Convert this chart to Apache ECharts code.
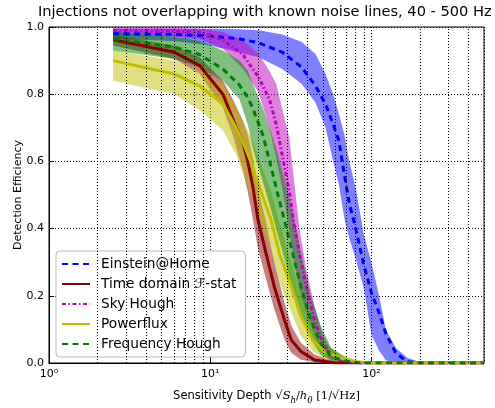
<!DOCTYPE html>
<html><head><meta charset="utf-8">
<script src="https://cdn.jsdelivr.net/npm/echarts@6/dist/echarts.min.js"></script>
<style>html,body{margin:0;padding:0;background:#fff}#c{width:495px;height:408px}</style>
</head><body><div id="c"></div>
<script>
// ---- data ----
const seriesNames = ['Einstein@Home', 'Time domain \u2131-stat', 'Sky Hough', 'Powerflux', 'Frequency Hough'];

const ehX  = [2.5, 6, 10, 15, 20, 28, 37, 45, 52, 58, 63, 68, 73, 80, 90, 100, 112, 123, 142, 168, 200, 500];
const ehY  = [0.98, 0.978, 0.973, 0.965, 0.953, 0.925, 0.88, 0.825, 0.77, 0.71, 0.66, 0.56, 0.475, 0.40, 0.29, 0.21, 0.148, 0.088, 0.029, 0.004, 0, 0];
const ehLo = [0.965, 0.958, 0.945, 0.925, 0.91, 0.875, 0.83, 0.775, 0.70, 0.60, 0.53, 0.43, 0.37, 0.31, 0.22, 0.085, 0.036, 0.008, 0, 0, 0, 0];
const ehHi = [0.995, 0.995, 0.995, 0.993, 0.99, 0.978, 0.955, 0.92, 0.86, 0.80, 0.74, 0.68, 0.60, 0.52, 0.38, 0.30, 0.197, 0.10, 0.045, 0.015, 0.003, 0];

const tdX  = [2.5, 6, 8.6, 12, 14, 16, 17.1, 18.4, 19.8, 22.2, 25, 28.9, 31.9, 36.6, 44.4, 60, 500];
const tdY  = [0.962, 0.925, 0.885, 0.80, 0.72, 0.654, 0.60, 0.525, 0.426, 0.326, 0.227, 0.128, 0.068, 0.034, 0.009, 0, 0];
const tdLo = [0.945, 0.905, 0.86, 0.76, 0.67, 0.57, 0.51, 0.43, 0.34, 0.25, 0.16, 0.07, 0.03, 0.01, 0.002, 0, 0];
const tdHi = [0.977, 0.945, 0.91, 0.84, 0.78, 0.72, 0.68, 0.61, 0.52, 0.42, 0.30, 0.18, 0.11, 0.06, 0.025, 0.003, 0];

const shX  = [2.5, 6, 8.6, 12, 16, 20, 23.3, 25.7, 28.5, 31, 33.2, 35.8, 39.4, 44.4, 49.9, 56, 65, 80, 500];
const shY  = [0.99, 0.988, 0.984, 0.962, 0.917, 0.85, 0.785, 0.71, 0.60, 0.51, 0.41, 0.326, 0.227, 0.128, 0.059, 0.024, 0.008, 0, 0];
const shLo = [0.975, 0.972, 0.965, 0.935, 0.875, 0.805, 0.70, 0.61, 0.50, 0.39, 0.30, 0.22, 0.15, 0.08, 0.03, 0.01, 0, 0, 0];
const shHi = [0.998, 0.997, 0.995, 0.985, 0.96, 0.92, 0.87, 0.83, 0.74, 0.67, 0.54, 0.40, 0.28, 0.17, 0.085, 0.04, 0.015, 0.003, 0];

const pfX  = [2.5, 6, 8.6, 12, 14.5, 16.7, 18, 20, 23.9, 26.9, 31.9, 36.6, 43.2, 51, 65, 80, 100, 500];
const pfY  = [0.90, 0.86, 0.825, 0.77, 0.70, 0.635, 0.595, 0.53, 0.425, 0.326, 0.227, 0.138, 0.068, 0.034, 0.014, 0.004, 0, 0];
const pfLo = [0.84, 0.80, 0.753, 0.693, 0.62, 0.54, 0.50, 0.44, 0.33, 0.24, 0.15, 0.08, 0.035, 0.015, 0.004, 0, 0, 0];
const pfHi = [0.93, 0.90, 0.87, 0.83, 0.76, 0.70, 0.67, 0.61, 0.51, 0.42, 0.30, 0.20, 0.11, 0.06, 0.025, 0.008, 0, 0];

const fhX  = [2.5, 6, 8.6, 12, 15.2, 17.1, 18.4, 21.2, 23.4, 26, 28.9, 32.5, 36.6, 42.1, 48.6, 56.4, 70, 85, 500];
const fhY  = [0.965, 0.94, 0.918, 0.875, 0.827, 0.79, 0.758, 0.679, 0.60, 0.51, 0.425, 0.326, 0.227, 0.128, 0.059, 0.019, 0.005, 0, 0];
const fhLo = [0.93, 0.905, 0.88, 0.84, 0.785, 0.71, 0.64, 0.54, 0.47, 0.39, 0.31, 0.22, 0.14, 0.07, 0.025, 0.006, 0, 0, 0];
const fhHi = [0.985, 0.97, 0.958, 0.93, 0.90, 0.87, 0.83, 0.76, 0.70, 0.63, 0.55, 0.45, 0.33, 0.20, 0.11, 0.045, 0.015, 0.003, 0];

const minorGridX = [2, 3, 4, 5, 6, 7, 8, 9, 20, 30, 40, 50, 60, 70, 80, 90, 200, 300, 400];
const xTickLabels = { 1: '10\u2070', 10: '10\u00b9', 100: '10\u00b2' };
const yTickValues = [0, 0.2, 0.4, 0.6, 0.8, 1.0];

// ---- styling ----
const FONT = 'DejaVu Sans';
const groups = [
  { name: seriesNames[0], x: ehX, y: ehY, lo: ehLo, hi: ehHi, color: '#0000ff', band: 'rgba(0,0,255,0.5)', type: [6, 4.5], width: 3 },
  { name: seriesNames[1], x: tdX, y: tdY, lo: tdLo, hi: tdHi, color: '#8b0000', band: 'rgba(139,0,0,0.5)', type: 'solid', width: 3 },
  { name: seriesNames[2], x: shX, y: shY, lo: shLo, hi: shHi, color: '#bf00bf', band: 'rgba(191,0,191,0.5)', type: [4, 2.5, 1.5, 2.5], width: 3 },
  { name: seriesNames[3], x: pfX, y: pfY, lo: pfLo, hi: pfHi, color: '#bfbf00', band: 'rgba(191,191,0,0.5)', type: 'solid', width: 3 },
  { name: seriesNames[4], x: fhX, y: fhY, lo: fhLo, hi: fhHi, color: '#008000', band: 'rgba(0,128,0,0.5)', type: [6, 4.5], width: 3 }
];

const series = [];
series.push({
  type: 'line', name: '_grid', data: [[1, 0]], symbol: 'none', silent: true, z: 0,
  lineStyle: { opacity: 0 },
  markLine: {
    silent: true, symbol: ['none', 'none'], label: { show: false }, animation: false,
    lineStyle: { color: '#000', type: [1, 2], width: 1 },
    emphasis: { disabled: true },
    data: minorGridX.map(v => ({ xAxis: v }))
  }
});
groups.forEach(g => {
  series.push({
    type: 'custom', name: '_band_' + g.name, z: 1, silent: true, clip: true,
    data: [[g.x[0], g.y[0]]],
    renderItem: (params, api) => {
      const pts = [];
      for (let i = 0; i < g.x.length; i++) pts.push(api.coord([g.x[i], g.hi[i]]));
      for (let i = g.x.length - 1; i >= 0; i--) pts.push(api.coord([g.x[i], g.lo[i]]));
      return { type: 'polygon', shape: { points: pts }, style: { fill: g.band, stroke: null } };
    }
  });
});
groups.forEach(g => {
  series.push({
    type: 'line', name: g.name, z: 3, symbol: 'none', showSymbol: false,
    data: g.x.map((v, i) => [v, g.y[i]]),
    itemStyle: { color: g.color },
    lineStyle: { color: g.color, width: g.width, type: g.type, cap: 'butt' },
    emphasis: { disabled: true }
  });
});

const chart = echarts.init(document.getElementById('c'), null, { renderer: 'canvas' });
chart.setOption({
  animation: false,
  backgroundColor: '#fff',
  title: {
    text: 'Injections not overlapping with known noise lines, 40 - 500 Hz',
    left: 38, top: 3, padding: [2, 0, 2, 0],
    textStyle: { fontFamily: FONT, fontSize: 14.6, fontWeight: 'normal', color: '#000' }
  },
  legend: {
    data: seriesNames,
    orient: 'vertical', left: 56, top: 251,
    itemWidth: 28, itemHeight: 12, itemGap: 6,
    backgroundColor: '#fff', borderColor: '#bbb', borderWidth: 1, borderRadius: 4,
    padding: [6, 9, 6, 5],
    itemStyle: { opacity: 0 },
    textStyle: { fontFamily: FONT, fontSize: 13.7, color: '#000', padding: [0, 0, 0, 6] }
  },
  grid: { left: 49, right: 11, top: 27, bottom: 45, containLabel: false, outerBoundsMode: 'none',
          show: true, borderColor: '#000', borderWidth: 1, backgroundColor: 'transparent' },
  xAxis: {
    type: 'log', logBase: 10, min: 1, max: 500,
    name: '{t|Sensitivity Depth }{m|\u221a}{i|S}{s|h}{m|/}{i|h}{s|0}{m| [1/\u221a}{m|Hz}{m|]}',
    nameLocation: 'middle', nameGap: 24, nameMoveOverlap: false,
    nameTextStyle: {
      color: '#000', lineHeight: 18,
      rich: {
        t: { fontFamily: FONT, fontSize: 11.5, color: '#000', lineHeight: 18 },
        m: { fontFamily: 'DejaVu Serif', fontSize: 11.5, color: '#000', lineHeight: 18 },
        i: { fontFamily: 'DejaVu Serif', fontStyle: 'italic', fontSize: 11.5, color: '#000', lineHeight: 18 },
        s: { fontFamily: 'DejaVu Serif', fontStyle: 'italic', fontSize: 8.5, color: '#000', lineHeight: 11, verticalAlign: 'bottom' }
      }
    },
    axisLine: { show: true, lineStyle: { color: '#000', width: 1 } },
    axisTick: { show: true, inside: true, length: 5, lineStyle: { color: '#000' } },
    axisLabel: {
      fontFamily: FONT, fontSize: 11, color: '#000', margin: 6,
      formatter: v => xTickLabels[Math.round(v)] || '',
      showMaxLabel: false
    },
    splitLine: { show: true, lineStyle: { color: '#000', type: [1, 2], width: 1 } }
  },
  yAxis: {
    type: 'value', min: 0, max: 1, interval: 0.2,
    name: 'Detection Efficiency', nameLocation: 'middle', nameGap: 25, nameMoveOverlap: false,
    nameTextStyle: { fontFamily: FONT, fontSize: 11, color: '#000' },
    axisLine: { show: true, lineStyle: { color: '#000', width: 1 } },
    axisTick: { show: true, inside: true, length: 5, lineStyle: { color: '#000' } },
    axisLabel: {
      fontFamily: FONT, fontSize: 11, color: '#000', margin: 5,
      formatter: v => (yTickValues.indexOf(Math.round(v * 10) / 10) >= 0 ? v.toFixed(1) : '')
    },
    splitLine: { show: true, lineStyle: { color: '#000', type: [1, 2], width: 1 } }
  },
  series: series
});
</script>
</body></html>
